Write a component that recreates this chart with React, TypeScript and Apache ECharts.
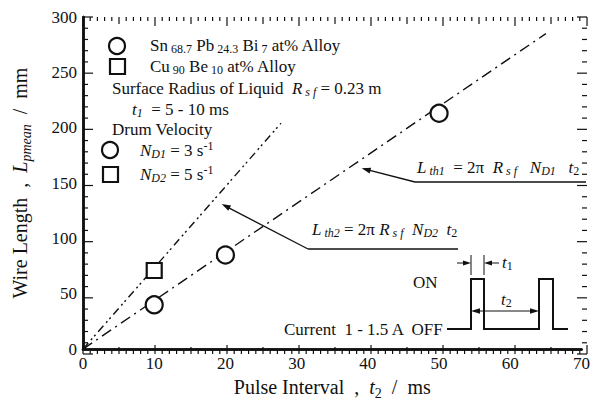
import React, { useEffect, useRef } from "react";
import * as echarts from "echarts";

const FONT = "'Liberation Serif', 'DejaVu Serif', serif";
const INK = "#111111";

const X_MIN = 0;
const X_MAX = 70;
const Y_MIN = 0;
const Y_MAX = 300;
const xTicks = [0, 10, 20, 30, 40, 50, 60, 70];
const yTicks = [0, 50, 100, 150, 200, 250, 300];
const snAlloyPoints: [number, number][] = [
  [10, 40],
  [20, 85],
  [50, 213],
];
const cuAlloyPoints: [number, number][] = [[10, 71]];
const lth1Line: [number, number][] = [
  [0, 0],
  [65, 285],
];
const lth2Line: [number, number][] = [
  [0, 0],
  [27.8, 204],
];

// tick positions (minor every 1 on x, every 10 on y)
const xTickValues: number[] = [];
for (let v = X_MIN; v <= X_MAX; v += 1) xTickValues.push(v);
const yTickValues: number[] = [];
for (let v = Y_MIN; v <= Y_MAX; v += 10) yTickValues.push(v);

const W = 593;
const H = 405;
const GRID = { left: 83, right: 6, top: 17, bottom: 51 };

const FS = 17;
const SFS = 12;
const rich = {
  r: { fontFamily: FONT, fontSize: FS, color: INK, lineHeight: 20, verticalAlign: "middle" },
  i: { fontFamily: FONT, fontSize: FS, fontStyle: "italic", color: INK, lineHeight: 20, verticalAlign: "middle" },
  s: { fontFamily: FONT, fontSize: SFS, color: INK, lineHeight: 6, verticalAlign: "bottom" },
  si: { fontFamily: FONT, fontSize: SFS, fontStyle: "italic", color: INK, lineHeight: 6, verticalAlign: "bottom" },
  sup: { fontFamily: FONT, fontSize: SFS, color: INK, lineHeight: 10, verticalAlign: "top" },
};

function txt(x: number, y: number, text: string) {
  return {
    type: "text",
    x,
    y,
    style: { text, rich, fill: INK, fontFamily: FONT, fontSize: FS, verticalAlign: "middle" },
    z: 10,
  };
}

function line(x1: number, y1: number, x2: number, y2: number, w = 1.3) {
  return { type: "line", shape: { x1, y1, x2, y2 }, style: { stroke: INK, lineWidth: w }, z: 10 };
}

function arrowHead(tx: number, ty: number, fx: number, fy: number, len = 9, hw = 3) {
  const dx = tx - fx;
  const dy = ty - fy;
  const l = Math.sqrt(dx * dx + dy * dy);
  const ux = dx / l;
  const uy = dy / l;
  const bx = tx - ux * len;
  const by = ty - uy * len;
  const px = -uy * hw;
  const py = ux * hw;
  return {
    type: "polygon",
    shape: { points: [[tx, ty], [bx + px, by + py], [bx - px, by - py]] },
    style: { fill: INK },
    z: 10,
  };
}

function xTickLen(v: number) {
  return v % 10 === 0 ? 9 : v % 5 === 0 ? 7 : 4;
}
function yTickLen(v: number) {
  return v % 50 === 0 ? 10 : 5;
}

// linear scales of the grid (same as the value axes: fixed min/max)
const gx = (v: number) => GRID.left + ((v - X_MIN) / (X_MAX - X_MIN)) * (W - GRID.left - GRID.right);
const gy = (v: number) => GRID.top + ((Y_MAX - v) / (Y_MAX - Y_MIN)) * (H - GRID.top - GRID.bottom);

export default function App() {
  const ref = useRef<HTMLDivElement>(null);
  useEffect(() => {
    if (!ref.current) return;
    const chart = echarts.init(ref.current, undefined, { renderer: "svg" });
    const hidden = { show: false };
    const frame = { show: true, lineStyle: { color: INK, width: 2.5 } };
    const nameRich = {
      r: { fontFamily: FONT, fontSize: 20, color: INK, lineHeight: 26, verticalAlign: "middle" },
      i: { fontFamily: FONT, fontSize: 20, fontStyle: "italic", color: INK, lineHeight: 26, verticalAlign: "middle" },
      s: { fontFamily: FONT, fontSize: 14, color: INK, lineHeight: 10, verticalAlign: "bottom" },
      si: { fontFamily: FONT, fontSize: 14, fontStyle: "italic", color: INK, lineHeight: 10, verticalAlign: "bottom" },
    };

    // inward ticks on all four sides
    const ticks: any[] = [];
    xTickValues.forEach((v) => {
      const x = gx(v);
      const len = xTickLen(v);
      ticks.push({ type: "rect", shape: { x: x - 0.6, y: gy(Y_MIN) - len, width: 1.2, height: len }, style: { fill: INK }, z: 20 });
      ticks.push({ type: "rect", shape: { x: x - 0.6, y: gy(Y_MAX), width: 1.2, height: len }, style: { fill: INK }, z: 20 });
    });
    yTickValues.forEach((v) => {
      const y = gy(v);
      const len = yTickLen(v);
      ticks.push({ type: "rect", shape: { x: gx(X_MIN), y: y - 0.6, width: len, height: 1.2 }, style: { fill: INK }, z: 20 });
      ticks.push({ type: "rect", shape: { x: gx(X_MAX) - len, y: y - 0.6, width: len, height: 1.2 }, style: { fill: INK }, z: 20 });
    });

    const annotations: any[] = [
      ...ticks,
      { type: "circle", shape: { cx: 117, cy: 46, r: 8 }, style: { fill: "#fff", stroke: INK, lineWidth: 2.2 }, z: 10 },
      { type: "rect", shape: { x: 110, y: 59, width: 15, height: 15 }, style: { fill: "#fff", stroke: INK, lineWidth: 2.2 }, z: 10 },
      txt(150, 45, "{r|Sn}{s| 68.7}{r| Pb}{s| 24.3}{r| Bi}{s| 7}{r| at% Alloy}"),
      txt(150, 66, "{r|Cu}{s| 90}{r| Be}{s| 10}{r| at% Alloy}"),
      txt(112, 88, "{r|Surface Radius of Liquid  }{i|R}{si| s f}{r| = 0.23 m}"),
      txt(132, 109, "{i|t}{si|1}{r|  = 5 - 10 ms}"),
      txt(112, 129, "{r|Drum Velocity}"),
      { type: "circle", shape: { cx: 110, cy: 150, r: 8 }, style: { fill: "#fff", stroke: INK, lineWidth: 2.2 }, z: 10 },
      txt(140, 150, "{i|N}{si|D1}{r| = 3 s}{sup|-1}"),
      { type: "rect", shape: { x: 103, y: 167, width: 15, height: 15 }, style: { fill: "#fff", stroke: INK, lineWidth: 2.2 }, z: 10 },
      txt(140, 174, "{i|N}{si|D2}{r| = 5 s}{sup|-1}"),
      // Lth1 annotation
      txt(417, 167, "{i|L}{si| th1}{r|  = 2π  }{i|R}{si| s f}{r|   }{i|N}{si|D1}{r|   }{i|t}{s|2}"),
      line(415, 182, 586, 182),
      line(415, 182, 364, 168.8),
      arrowHead(361.7, 168.3, 415, 182),
      // Lth2 annotation
      txt(312, 229, "{i|L}{si| th2}{r| = 2π }{i|R}{si| s f}{r|  }{i|N}{si|D2}{r|  }{i|t}{s|2}"),
      line(308, 249, 458, 249),
      line(308, 249, 224, 205.3),
      arrowHead(221.7, 204, 308, 249),
      // Pulse diagram
      {
        type: "polyline",
        shape: {
          points: [
            [447, 329], [471, 329], [471, 279], [484, 279], [484, 329],
            [539, 329], [539, 279], [553, 279], [553, 329], [568, 329],
          ],
        },
        style: { stroke: INK, lineWidth: 2, fill: null },
        z: 10,
      },
      txt(413, 282, "{r|ON}"),
      txt(284, 329, "{r|Current  1 - 1.5 A  OFF}"),
      line(471, 255, 471, 275, 1),
      line(484, 255, 484, 275, 1),
      line(457, 263, 468, 263, 1),
      arrowHead(471, 263, 457, 263, 8, 2.5),
      line(487, 263, 499, 263, 1),
      arrowHead(484, 263, 499, 263, 8, 2.5),
      txt(502, 262, "{i|t}{s|1}"),
      line(474, 311, 536, 311, 1),
      arrowHead(471, 311, 539, 311, 9, 2.8),
      arrowHead(539, 311, 471, 311, 9, 2.8),
      txt(501, 299, "{i|t}{s|2}"),
    ];

    const option: any = {
      animation: false,
      backgroundColor: "#fff",
      grid: { ...GRID },
      xAxis: [
        {
          type: "value",
          min: X_MIN,
          max: X_MAX,
          interval: 10,
          position: "bottom",
          axisLine: frame,
          splitLine: hidden,
          axisTick: hidden,
          axisLabel: {
            show: true,
            fontFamily: FONT,
            fontSize: 17,
            color: INK,
            margin: 6,
            formatter: (v: number) => (xTicks.includes(v) ? String(v) : ""),
          },
          name: "{r|Pulse Interval  ,  }{i|t}{s|2}{r|  /  ms}",
          nameLocation: "middle",
          nameGap: 21,
          nameTextStyle: { fontFamily: FONT, fontSize: 20, color: INK, rich: nameRich },
        },
        {
          type: "value",
          min: X_MIN,
          max: X_MAX,
          interval: 10,
          position: "top",
          axisLine: frame,
          splitLine: hidden,
          axisLabel: hidden,
          axisTick: hidden,
        },
      ],
      yAxis: [
        {
          type: "value",
          min: Y_MIN,
          max: Y_MAX,
          interval: 50,
          position: "left",
          axisLine: frame,
          splitLine: hidden,
          axisTick: hidden,
          axisLabel: {
            show: true,
            fontFamily: FONT,
            fontSize: 17,
            color: INK,
            margin: 6,
            formatter: (v: number) => (yTicks.includes(v) ? String(v) : ""),
          },
          name: "{r|Wire Length  ,  }{i|L}{si|pmean}{r|  /  mm}",
          nameLocation: "middle",
          nameGap: 50,
          nameTextStyle: { fontFamily: FONT, fontSize: 20, color: INK, rich: nameRich },
        },
        {
          type: "value",
          min: Y_MIN,
          max: Y_MAX,
          interval: 50,
          position: "right",
          axisLine: frame,
          splitLine: hidden,
          axisLabel: hidden,
          axisTick: hidden,
        },
      ],
      series: [
        {
          type: "line",
          data: lth1Line,
          symbol: "none",
          lineStyle: { color: INK, width: 1.4, type: [11, 5, 2, 5] },
          z: 2,
        },
        {
          type: "line",
          data: lth2Line,
          symbol: "none",
          lineStyle: { color: INK, width: 1.4, type: [8, 4, 2, 3, 2, 4] },
          z: 2,
        },
        {
          type: "scatter",
          data: snAlloyPoints,
          symbol: "circle",
          symbolSize: 17,
          itemStyle: { color: "#fff", borderColor: INK, borderWidth: 2.2, opacity: 1 },
          z: 5,
        },
        {
          type: "scatter",
          data: cuAlloyPoints,
          symbol: "rect",
          symbolSize: 15,
          itemStyle: { color: "#fff", borderColor: INK, borderWidth: 2.2, opacity: 1 },
          z: 5,
        },
      ],
      graphic: annotations,
    };
    chart.setOption(option);
    return () => chart.dispose();
  }, []);
  return (
    <div
      ref={ref}
      style={{ position: "fixed", left: 0, top: 0, width: W, height: H, background: "#fff" }}
    />
  );
}
